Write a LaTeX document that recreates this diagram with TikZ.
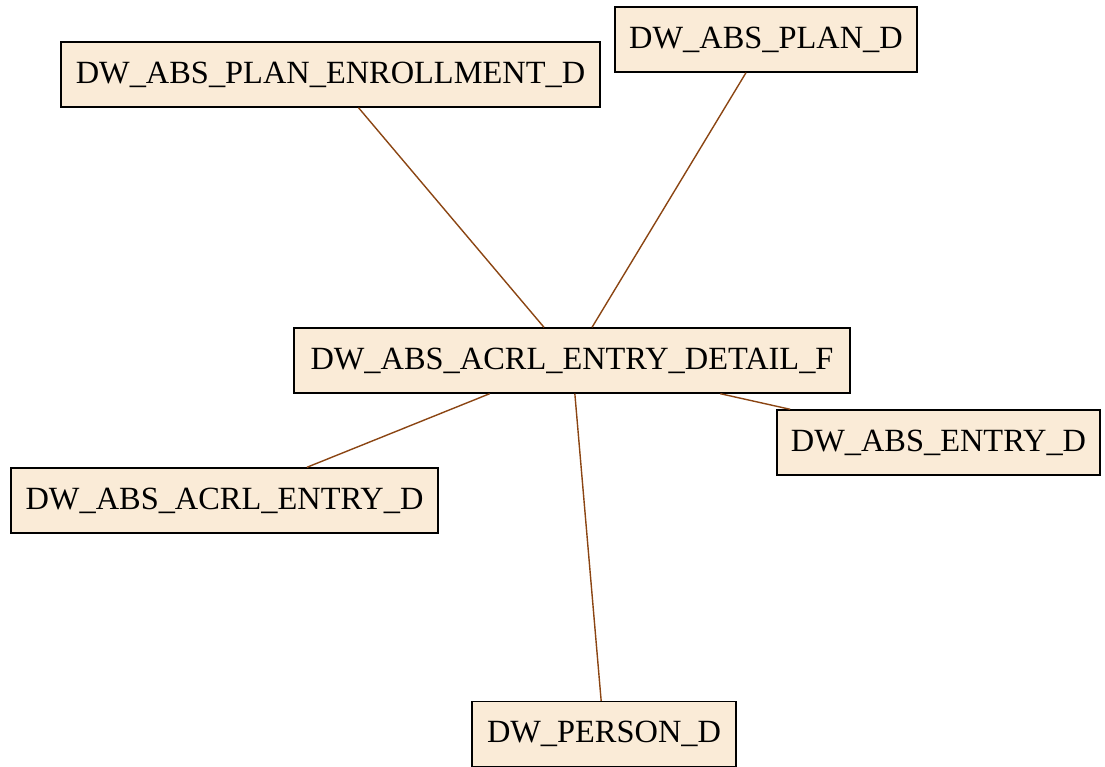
\documentclass[tikz,border=0pt]{standalone}
\usepackage{fontspec}
\setmainfont{Liberation Serif}
\definecolor{tablefill}{HTML}{FAEBD7}
\definecolor{linkbrown}{HTML}{8B4513}
\begin{document}
\begin{tikzpicture}[x=1pt,y=-1pt,
  table/.style={draw=black, line width=1.4pt, fill=tablefill, rectangle,
    inner sep=0pt, minimum height=65pt,
    font=\fontsize{32.4}{38}\selectfont},
  link/.style={draw=linkbrown, line width=1.4pt}]
\useasboundingbox (0,0) rectangle (1105,767);
\node[table, minimum width=539pt] (enroll) at (330.5,74.5) {DW\_ABS\_PLAN\_ENROLLMENT\_D};
\node[table, minimum width=302pt] (plan) at (766,39.5) {DW\_ABS\_PLAN\_D};
\node[table, minimum width=556pt] (detail) at (572,360.5) {DW\_ABS\_ACRL\_ENTRY\_DETAIL\_F};
\node[table, minimum width=323pt] (entry) at (938.5,442.5) {DW\_ABS\_ENTRY\_D};
\node[table, minimum width=427pt] (acrl) at (224.5,500.5) {DW\_ABS\_ACRL\_ENTRY\_D};
\node[table, minimum width=264pt] (person) at (604,734) {DW\_PERSON\_D};
\draw[link] (enroll) -- (detail);
\draw[link] (plan) -- (detail);
\draw[link] (detail) -- (acrl);
\draw[link] (detail) -- (person);
\draw[link] (detail) -- (entry);
\end{tikzpicture}
\end{document}
